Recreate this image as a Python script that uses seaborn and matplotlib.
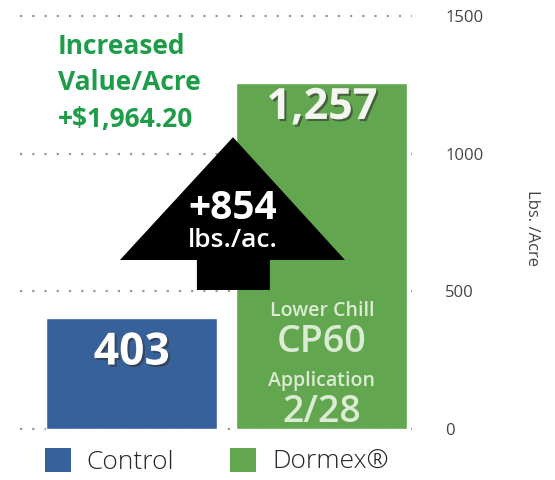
import matplotlib
matplotlib.use("Agg")
import matplotlib.pyplot as plt
import matplotlib.patheffects as pe
from matplotlib.patches import Polygon, Patch
import seaborn as sns
import pandas as pd

categories = ["Control", "Dormex®"]
yields = [403, 1257]
bar_labels = ["403", "1,257"]
y_ticks = [0, 500, 1000, 1500]
y_label = "Lbs. /Acre"
gain_text = ["+854", "lbs./ac."]
value_text = "Increased\nValue/Acre\n+$1,964.20"
dormex_notes = ["Lower Chill", "CP60", "Application", "2/28"]

blue = "#37619a"
green = "#62a74f"
text_green = "#1f9c4a"

sns.set_theme(style="white")
plt.rcParams["font.family"] = ["Open Sans", "DejaVu Sans"]

df = pd.DataFrame({"cat": categories, "val": yields})

fig = plt.figure(figsize=(5.55, 4.80), dpi=100)
W, H = 555, 480
ax = fig.add_axes([20 / W, 1 - 445 / H, (412 - 20) / W, (445 - 10) / H])

sns.barplot(data=df, x="cat", y="val", hue="cat", palette=[blue, green],
            width=0.9, ax=ax, legend=False, saturation=1)

ax.set_xlim(-0.589, 1.474)
ax.set_ylim(-58, 1522)
ax.set_yticks(y_ticks)
ax.set_yticklabels([str(t) for t in y_ticks], color="#444444", fontsize=12)
ax.yaxis.tick_right()
ax.tick_params(axis="y", length=0, pad=24)
ax.set_xticks([])
ax.set_xlabel("")
ax.yaxis.set_label_position("right")
ax.set_ylabel(y_label, rotation=-90, fontsize=12, color="#444444",
              labelpad=29, va="bottom")
for s in ax.spines.values():
    s.set_visible(False)
ax.grid(axis="y", linestyle=(0, (1, 4.5)), linewidth=1.6, color="#9a9a9a")
ax.set_axisbelow(True)
ax.patch.set_alpha(0)

shadow = [pe.withSimplePatchShadow(offset=(1.5, -1.5), shadow_rgbFace="#333333", alpha=0.6)]

# value labels on bars
ax.text(0, 276, bar_labels[0], ha="center", va="center", color="white",
        fontsize=32, fontweight="bold", path_effects=shadow)
ax.text(1, 1168, bar_labels[1], ha="center", va="center", color="#f4f7ef",
        fontsize=31, fontweight="bold", path_effects=shadow)

# notes on Dormex bar
note_col = "#dcebd3"
ax.text(1, 428, dormex_notes[0], ha="center", va="center", color=note_col, fontsize=14, fontweight="semibold")
ax.text(1, 316, dormex_notes[1], ha="center", va="center", color=note_col, fontsize=27, fontweight="semibold")
ax.text(1, 175, dormex_notes[2], ha="center", va="center", color=note_col, fontsize=14, fontweight="semibold")
ax.text(1, 62, dormex_notes[3], ha="center", va="center", color=note_col, fontsize=27, fontweight="semibold")

# arrow
arrow = Polygon([(0.532, 1060), (1.121, 614), (0.726, 614), (0.726, 505),
                 (0.342, 505), (0.342, 614), (-0.063, 614)],
                closed=True, facecolor="black", edgecolor="none", zorder=5)
ax.add_patch(arrow)
ax.text(0.53, 800, gain_text[0], ha="center", va="center", color="white",
        fontsize=28, fontweight="bold", zorder=6)
ax.text(0.53, 685, gain_text[1], ha="center", va="center", color="white",
        fontsize=19, fontweight="semibold", zorder=6)

# increased value text
fig.text(58 / W, 1 - 33 / H, value_text, ha="left", va="top", color=text_green,
         fontsize=19, fontweight="bold", linespacing=1.45)

# legend
handles = [Patch(facecolor=blue, edgecolor="none"), Patch(facecolor=green, edgecolor="none")]
fig.legend(handles, categories, loc="lower left", bbox_to_anchor=(34 / W, -0.012),
           ncol=2, frameon=False, prop={"weight": 300, "size": 19},
           handlelength=1.0, handleheight=1.0,
           handletextpad=0.6, columnspacing=2.1, borderaxespad=0)

fig.savefig("out.png", dpi=100)
